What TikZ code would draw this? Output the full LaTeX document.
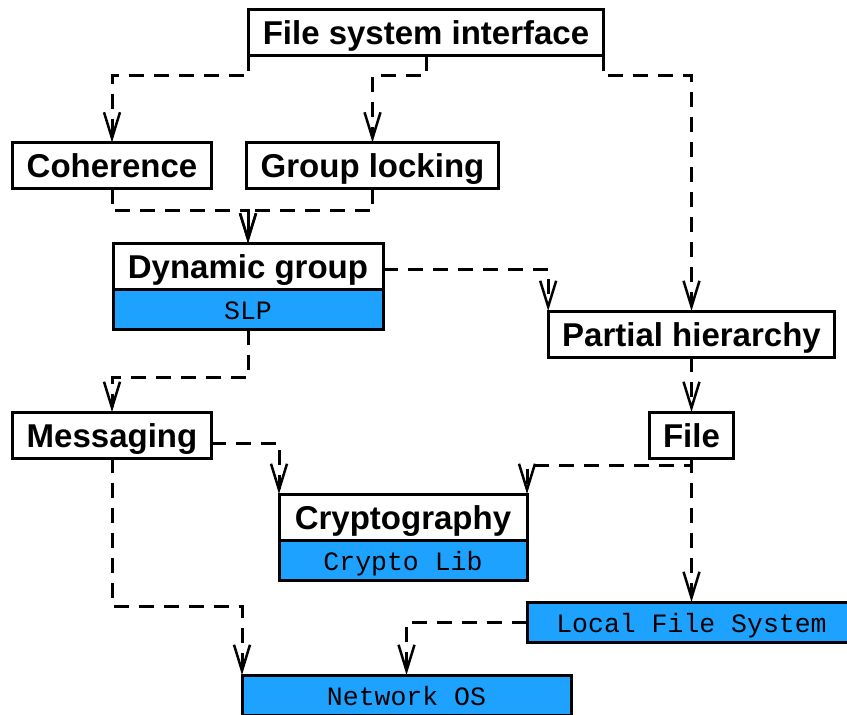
\documentclass[tikz,border=0pt]{standalone}
\usepackage{fontspec}
\setmainfont{Liberation Sans}
\setmonofont{Liberation Mono}
\usepackage{tikz}
\usetikzlibrary{arrows.meta, positioning}
\definecolor{libblue}{RGB}{30,162,255}
\tikzstyle{module} = [draw,line width=3pt,fill=white,outer sep=0pt,inner xsep=14pt,inner ysep=0pt,minimum height=46pt,text height=24pt,text depth=0pt,font=\bfseries\fontsize{33}{36}\selectfont]
\tikzstyle{library} = [module,fill=libblue,minimum height=40pt,text height=20pt,font=\ttfamily\fontsize{26.5}{30}\selectfont]
\tikzstyle{uses} = [line width=3pt,dash pattern=on 15pt off 10pt,-{Straight Barb[length=26pt,width=16pt,line width=2.5pt]}]

\begin{document}
\begin{tikzpicture}[x=1pt,y=-1pt]
\useasboundingbox (0,0) rectangle (847,715);

\node [module](fsi) at (426,32.5){File system interface};
\node [module](coh) at (112,165.5){Coherence};
\node [module](glock) at (372.5,165.5){Group locking};
\node [module,minimum width=270pt](dyn) at (248,266.5){Dynamic group};
\node [library,minimum width=270pt,below=0pt of dyn](slp){SLP};
\node [module](ph) at (691.5,334){Partial hierarchy};
\node [module](msg) at (112,435){Messaging};
\node [module](file) at (691.5,435){File};
\node [module,minimum width=248pt](crypto) at (403,517){Cryptography};
\node [library,minimum width=248pt,below=0pt of crypto](clib){Crypto Lib};
\node [library,minimum width=329pt](lfs) at (691.5,622){Local File System};
\node [library,minimum width=329pt](nos) at (406.5,695){Network OS};

\draw[uses](fsi.south west)-- ++(0,20)-|(coh.north);
\draw[uses](fsi.south)-- ++(0,20)-|(glock.north);
\draw[uses](fsi.south east)-- ++(0,20)-|(ph.north);
\draw[uses](coh.south)-- ++(0,22)-|(dyn.north);
\draw[uses](glock.south)-- ++(0,22)-|(dyn.north);
\draw[uses]([yshift=-3pt]dyn.east)-|(ph.north west);
\draw[uses](ph)--(file);
\draw[uses](slp.south)-- ++(0,48)-|(msg.north);
\draw[uses]([yshift=-8pt]msg.east)-|(crypto.north west);
\draw[uses](file.south)-- ++(0,7)-|(crypto.north east);
\draw[uses](file)--(lfs);
\draw[uses](msg.south)-- ++(0,148)-|(nos.north west);
\draw[uses](lfs.west)-|(nos.north);

\end{tikzpicture}
\end{document}
